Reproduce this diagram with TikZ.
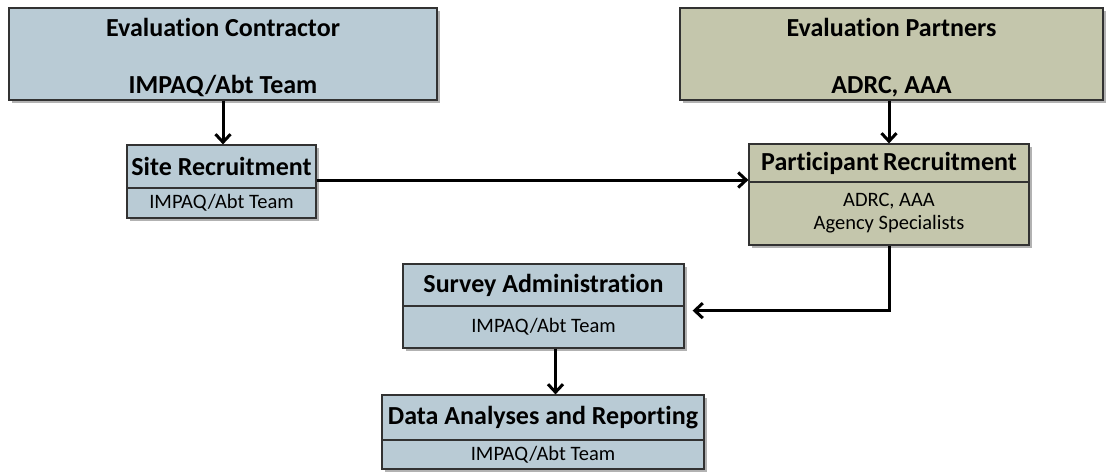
\documentclass[tikz,border=0pt]{standalone}
\usepackage{fontspec}
\setmainfont{Carlito}[Ligatures=NoCommon]
\usetikzlibrary{shadows,arrows.meta}
\definecolor{bluebox}{RGB}{185,203,213}
\definecolor{olivebox}{RGB}{196,198,172}
\definecolor{edge}{RGB}{50,50,50}
\tikzset{
  part/.style={draw=edge, line width=1.2pt, inner sep=0pt, align=center,
    drop shadow={shadow xshift=2.5pt, shadow yshift=-2.5pt, fill=black, opacity=0.3}},
  blue/.style={part, fill=bluebox},
  olive/.style={part, fill=olivebox},
  ttl/.style={font=\fontsize{26}{30}\selectfont\bfseries},
  sub/.style={font=\fontsize{20.5}{23}\selectfont},
  arr/.style={line width=3pt, -{Straight Barb[length=8pt,width=15pt,line width=3pt]}},
}
\begin{document}
\begin{tikzpicture}[x=1pt,y=-1pt]
\useasboundingbox (0,0) rectangle (1107,471);
% top boxes
\node[blue, ttl, minimum width=428pt, minimum height=92pt] (A) at (223,54)
  {\rule{0pt}{25pt}Evaluation Contractor\\[27pt]IMPAQ/Abt Team};
\node[olive, ttl, minimum width=423pt, minimum height=92pt] (B) at (891.5,54)
  {\rule{0pt}{25pt}Evaluation Partners\\[27pt]ADRC, AAA};
% site recruitment
\node[blue, ttl, minimum width=189pt, minimum height=43pt] (site) at (221.5,166.5) {Site Recruitment};
\node[blue, sub, minimum width=189pt, minimum height=30pt] (siteS) at (221.5,203) {IMPAQ/Abt Team};
% participant recruitment
\node[olive, ttl, minimum width=280pt, minimum height=38pt] (partT) at (889,163) {Participant\,Recruitment};
\node[olive, sub, minimum width=280pt, minimum height=63pt] (partS) at (889,213.5) {ADRC, AAA\\Agency Specialists};
% survey administration
\node[blue, ttl, minimum width=281pt, minimum height=42pt] (survT) at (543.5,285) {Survey Administration};
\node[blue, sub, minimum width=281pt, minimum height=42pt] (survS) at (543.5,327) {IMPAQ/Abt Team};
% data analyses
\node[blue, ttl, minimum width=322pt, minimum height=45pt] (dataT) at (543,417.5) {Data Analyses and Reporting};
\node[blue, sub, minimum width=322pt, minimum height=29pt] (dataS) at (543,454.5) {IMPAQ/Abt Team};
% connectors
\draw[arr] (A.south) -- (A.south |- site.north);
\draw[arr] (site.east |- 0,180) -- (partT.west |- 0,180);
\draw[arr] (B.south -| partT.north) -- (partT.north);
\draw[arr] (partS.south) |- ([xshift=8pt,yshift=-4pt]survT.south east);
\draw[arr] ([xshift=12pt]survS.south) -- ([xshift=12pt]survS.south |- dataT.north);
\end{tikzpicture}
\end{document}
